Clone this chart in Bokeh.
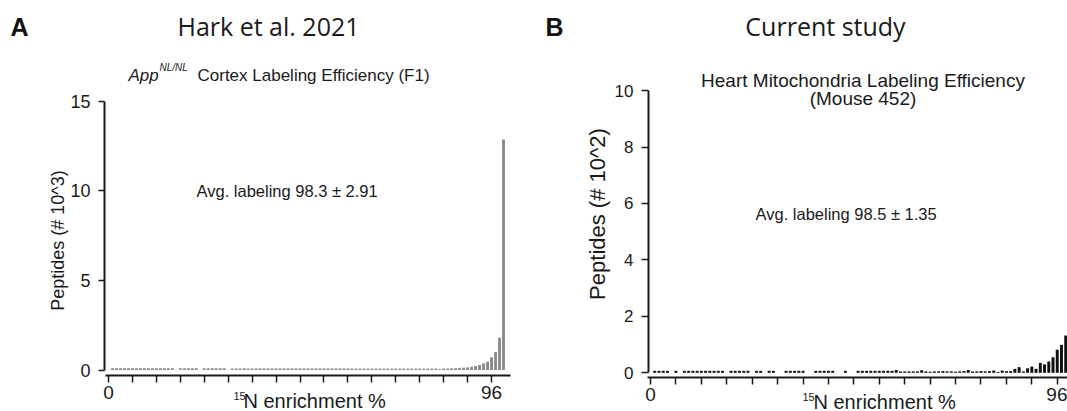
import math
from bokeh.plotting import figure
from bokeh.models import Label, FixedTicker, Range1d, ColumnDataSource, LinearAxis
from bokeh.embed import file_html
from bokeh.resources import INLINE

# ---------------- data ----------------
enrichment_ticks = [0, 6, 12, 18, 24, 30, 36, 42, 48, 54, 60, 66, 72, 78, 84, 90, 96]
enrichment_tick_labels = {0: "0", 96: "96"}

# Panel A: Hark et al. 2021 (peptides, # 10^3)
hark_pct = list(range(0, 100))
hark_peptides = [
    0.00, 0.10, 0.10, 0.10, 0.10, 0.10, 0.10, 0.10, 0.10, 0.10,
    0.10, 0.10, 0.10, 0.10, 0.10, 0.10, 0.10, 0.00, 0.10, 0.10,
    0.10, 0.10, 0.10, 0.00, 0.10, 0.10, 0.10, 0.10, 0.10, 0.10,
    0.00, 0.09, 0.09, 0.09, 0.10, 0.09, 0.09, 0.09, 0.09, 0.09,
    0.09, 0.09, 0.09, 0.09, 0.09, 0.09, 0.09, 0.09, 0.09, 0.09,
    0.09, 0.09, 0.09, 0.09, 0.09, 0.09, 0.09, 0.09, 0.09, 0.09,
    0.09, 0.08, 0.08, 0.08, 0.08, 0.08, 0.08, 0.08, 0.08, 0.08,
    0.08, 0.08, 0.08, 0.08, 0.08, 0.08, 0.08, 0.08, 0.08, 0.08,
    0.08, 0.08, 0.08, 0.05, 0.08, 0.08, 0.09, 0.10, 0.12, 0.13,
    0.15, 0.18, 0.22, 0.28, 0.37, 0.46, 0.71, 1.00, 1.80, 12.85,
]
hark_yticks = [0, 5, 10, 15]

# Panel B: Current study (peptides, # 10^2)
cur_pct = list(range(0, 99))
cur_peptides = [
    0.00, 0.07, 0.07, 0.07, 0.07, 0.00, 0.07, 0.00, 0.07, 0.07,
    0.07, 0.07, 0.07, 0.07, 0.07, 0.07, 0.07, 0.07, 0.00, 0.07,
    0.07, 0.07, 0.07, 0.07, 0.00, 0.07, 0.07, 0.00, 0.07, 0.07,
    0.00, 0.00, 0.07, 0.07, 0.07, 0.07, 0.07, 0.00, 0.00, 0.07,
    0.07, 0.07, 0.07, 0.07, 0.00, 0.00, 0.07, 0.00, 0.00, 0.07,
    0.07, 0.07, 0.07, 0.07, 0.07, 0.07, 0.07, 0.07, 0.10, 0.05,
    0.05, 0.05, 0.05, 0.05, 0.09, 0.05, 0.04, 0.05, 0.05, 0.06,
    0.05, 0.05, 0.04, 0.05, 0.06, 0.10, 0.05, 0.05, 0.06, 0.05,
    0.06, 0.08, 0.03, 0.08, 0.06, 0.06, 0.14, 0.20, 0.05, 0.16,
    0.22, 0.14, 0.35, 0.30, 0.40, 0.55, 0.82, 0.99, 1.32,
]
cur_yticks = [0, 2, 4, 6, 8, 10]

# ---------------- geometry (pixels of the 1067x411 canvas) ----------------
W, H = 1067, 411
FONT = "Liberation Sans"
TITLE_FONT = "Open Sans"
INK = "#1a1a1a"

# panel A pixel <-> data mapping
A_X0, A_PX = 108.0, 3.99
A_Y0, A_PY = 369.5, 17.93
def ax(px): return (px - A_X0) / A_PX
def ay(py): return (A_Y0 - py) / A_PY

# panel B pixel <-> data mapping
B_X0, B_PX = 650.0, 4.237
B_Y0, B_PY = 372.3, 28.22
def bx(px): return (px - B_X0) / B_PX
def by(py): return (B_Y0 - py) / B_PY

p = figure(width=W, height=H, output_backend="svg", toolbar_location=None,
           title=None, x_axis_location=None, y_axis_location=None,
           x_range=Range1d(ax(0), ax(W)), y_range=Range1d(ay(H), ay(0)),
           min_border=0)
p.extra_x_ranges = {"b": Range1d(bx(0), bx(W))}
p.extra_y_ranges = {"b": Range1d(by(H), by(0))}
p.grid.visible = False
p.outline_line_color = None
p.background_fill_color = "white"
p.border_fill_color = "white"

# bars
p.vbar(x="x", top="top", width=0.72, bottom=0,
       source=ColumnDataSource(dict(x=hark_pct, top=hark_peptides)),
       fill_color="#8a8a8a", line_color=None)
p.vbar(x="x", top="top", width=0.7, bottom=0,
       source=ColumnDataSource(dict(x=cur_pct, top=cur_peptides)),
       fill_color="#111111", line_color=None,
       x_range_name="b", y_range_name="b")


def add_axes(rname, x_loc, y_loc, xbounds, ybounds, yticks, ytick_size,
             ytick_out, ystandoff):
    xa = LinearAxis(ticker=FixedTicker(ticks=enrichment_ticks, minor_ticks=[]),
                    fixed_location=y_loc, bounds=xbounds,
                    x_range_name=rname, y_range_name=rname)
    xa.major_label_overrides = {t: enrichment_tick_labels.get(t, "") for t in enrichment_ticks}
    xa.axis_line_width = 2
    xa.axis_line_color = INK
    xa.major_tick_line_width = 1.5
    xa.major_tick_line_color = INK
    xa.major_tick_out = 7
    xa.major_tick_in = 0
    xa.minor_tick_out = 0
    xa.minor_tick_in = 0
    xa.major_label_standoff = 3
    xa.major_label_text_font = FONT
    xa.major_label_text_font_size = "19px"
    xa.major_label_text_color = INK
    p.add_layout(xa, "below")

    ya = LinearAxis(ticker=FixedTicker(ticks=yticks, minor_ticks=[]),
                    fixed_location=x_loc, bounds=ybounds,
                    x_range_name=rname, y_range_name=rname)
    ya.axis_line_width = 2
    ya.axis_line_color = INK
    ya.major_tick_line_width = 1.5
    ya.major_tick_line_color = INK
    ya.major_tick_out = ytick_out
    ya.major_tick_in = 0
    ya.minor_tick_out = 0
    ya.minor_tick_in = 0
    ya.major_label_standoff = ystandoff
    ya.major_label_text_font = FONT
    ya.major_label_text_font_size = ytick_size
    ya.major_label_text_color = INK
    p.add_layout(ya, "left")


add_axes("default", ax(104), ay(375), (ax(105), ax(510)), (0, 15),
         hark_yticks, "18px", 6, 8)
add_axes("b", bx(648), by(377), (bx(647), 101), (0, 10),
         cur_yticks, "17px", 7, 8)


def add_label(x, y, text, size, font=FONT, style="normal", align="left",
              angle=0.0, color=INK):
    # x, y: canvas pixels (text middle), converted through panel A's scales
    p.add_layout(Label(x=ax(x), y=ay(y), text=text, text_font=font,
                       text_font_size=f"{size}px", text_font_style=style,
                       text_align=align, text_baseline="middle", angle=angle,
                       text_color=color))


# ---- Panel A texts ----
add_label(10, 26, "A", 25, style="bold", color="#111111")
add_label(268, 25, "Hark et al. 2021", 25, font=TITLE_FONT, align="center")
add_label(128, 75, "App", 17, style="italic")
add_label(159, 67, "NL/NL", 10, style="italic")
add_label(197, 75, "Cortex Labeling Efficiency (F1)", 17)
add_label(196, 190, "Avg. labeling 98.3 \u00b1 2.91", 16.5)
add_label(57, 240, "Peptides (# 10^3)", 18, align="center", angle=math.pi / 2)
add_label(233, 395, "15", 11)
add_label(243, 400, "N enrichment %", 20)

# ---- Panel B texts ----
add_label(545, 26, "B", 25, style="bold", color="#111111")
add_label(825, 25, "Current study", 25, font=TITLE_FONT, align="center")
add_label(862.5, 80, "Heart Mitochondria Labeling Efficiency", 19, align="center")
add_label(862.5, 98, "(Mouse 452)", 19, align="center")
add_label(755, 213, "Avg. labeling 98.5 \u00b1 1.35", 16.5)
add_label(597, 213.5, "Peptides (# 10^2)", 22, align="center", angle=math.pi / 2)
add_label(802, 396, "15", 11)
add_label(813, 401, "N enrichment %", 20)

open("out.html", "w").write(file_html(p, INLINE))
